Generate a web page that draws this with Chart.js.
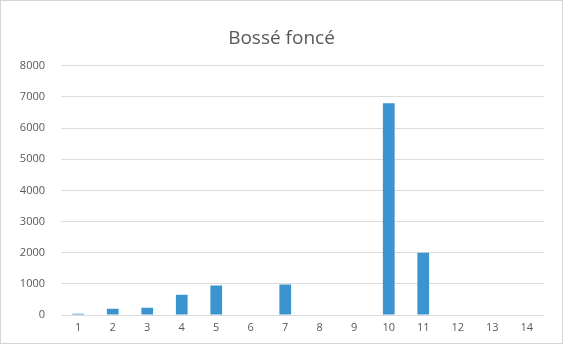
<!DOCTYPE html>
<html>
<head>
<meta charset="utf-8">
<script src="https://cdn.jsdelivr.net/npm/chart.js@4/dist/chart.umd.min.js"></script>
<style>
  html, body { margin: 0; padding: 0; background: #ffffff; }
  #wrap { width: 563px; height: 344px; }
</style>
</head>
<body>
<div id="wrap"><canvas id="c" width="563" height="344"></canvas></div>
<script>
const chartTitle = "Bossé foncé";
const categories = ["1", "2", "3", "4", "5", "6", "7", "8", "9", "10", "11", "12", "13", "14"];
const values = [40, 200, 230, 650, 950, 0, 980, 0, 0, 6800, 2000, 0, 0, 0];
const yTicks = [0, 1000, 2000, 3000, 4000, 5000, 6000, 7000, 8000];

const textColor = "#595959";
const fontFamily = "'Open Sans', 'Liberation Sans', sans-serif";

const frame = {
  id: "frame",
  beforeDraw(chart) {
    const ctx = chart.ctx;
    ctx.save();
    ctx.fillStyle = "#ffffff";
    ctx.fillRect(0, 0, chart.width, chart.height);
    ctx.strokeStyle = "#d6d6d6";
    ctx.lineWidth = 1;
    ctx.strokeRect(0.5, 0.5, chart.width - 1, chart.height - 1);
    ctx.restore();
  }
};

new Chart(document.getElementById("c"), {
  type: "bar",
  data: {
    labels: categories,
    datasets: [{
      data: values,
      backgroundColor: "#3b93cf",
      categoryPercentage: 1,
      barPercentage: 0.34
    }]
  },
  options: {
    responsive: false,
    animation: false,
    devicePixelRatio: 1,
    layout: { padding: 0 },
    plugins: {
      legend: { display: false },
      tooltip: { enabled: false },
      title: {
        display: true,
        text: chartTitle,
        color: textColor,
        font: { family: fontFamily, size: 19, weight: "normal", lineHeight: 1.2 },
        padding: { top: 27, bottom: 16 }
      }
    },
    scales: {
      x: {
        grid: { display: false, drawTicks: false },
        border: { display: false },
        ticks: {
          color: textColor,
          font: { family: fontFamily, size: 11 },
          padding: 6,
          maxRotation: 0
        },
        afterFit(scale) { scale.height = 29; }
      },
      y: {
        min: 0,
        max: 8000,
        afterBuildTicks(scale) { scale.ticks = yTicks.map(v => ({ value: v })); },
        grid: { color: "#dcdcdc", lineWidth: 1, drawTicks: false },
        border: { display: false },
        ticks: {
          color: textColor,
          font: { family: fontFamily, size: 11 },
          padding: 16,
          callback: (v) => String(v)
        },
        afterFit(scale) { scale.width = 61; }
      },
      yRight: {
        position: "right",
        min: 0,
        max: 8000,
        grid: { display: false, drawTicks: false },
        border: { display: false },
        ticks: { display: false },
        afterFit(scale) { scale.width = 19; }
      }
    }
  },
  plugins: [frame]
});
</script>
</body>
</html>
